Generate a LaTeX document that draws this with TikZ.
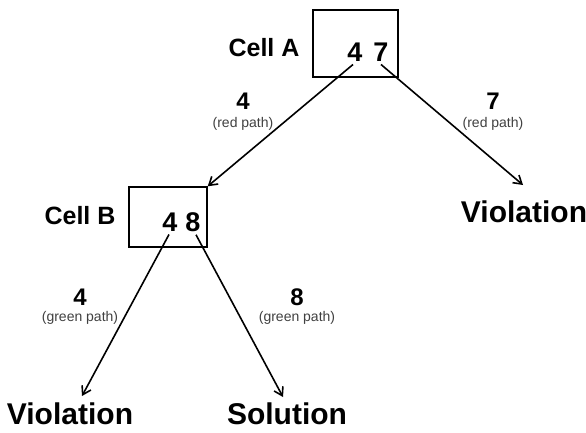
\documentclass[tikz,border=0pt]{standalone}
\usepackage{fontspec}
\setmainfont{Liberation Sans}
\usetikzlibrary{arrows.meta}
\tikzset{
    > = {Straight Barb[length=8pt,width=10pt]},
    cellbox/.style = {draw, line width=1.4pt, minimum width=#1, inner sep=0pt},
    digits/.style = {font=\bfseries\fontsize{27}{27}\selectfont, inner sep=0pt},
    celllabel/.style = {font=\bfseries\fontsize{25}{25}\selectfont},
    value/.style = {font=\bfseries\fontsize{24}{24}\selectfont},
    pathnote/.style = {font=\fontsize{14}{14}\selectfont, text=black!75},
    result/.style = {font=\bfseries\fontsize{30}{30}\selectfont},
    branch/.style = {->, line width=1.6pt}
}

\begin{document}
\begin{tikzpicture}[x=1pt, y=-1pt]
    \useasboundingbox (0, 0) rectangle (586, 432);

    \node[cellbox=85pt, minimum height=67pt] (cellA) at (355.5, 43.5) {};
    \node[cellbox=78pt, minimum height=60pt] (cellB) at (168, 217) {};

    \node[celllabel] (labelA) at (264, 48) {Cell A};
    \node[celllabel] (labelB) at (80, 216) {Cell B};

    \node[digits] (a4) at (355, 52) {4};
    \node[digits] (a7) at (381, 52) {7};
    \node[digits] (b4) at (170, 222) {4};
    \node[digits] (b8) at (193, 222) {8};

    \node[result] (violR) at (524, 212) {Violation};
    \node[result] (violL) at (70, 414) {Violation};
    \node[result] (sol) at (287, 414) {Solution};

    \node[value] (v4) at (243, 101) {4};
    \node[pathnote] (n4) at (243, 124) {(red path)};
    \node[value] (v7) at (493, 101) {7};
    \node[pathnote] (n7) at (493, 124) {(red path)};
    \node[value] (w4) at (80, 297) {4};
    \node[pathnote] (m4) at (80, 318) {(green path)};
    \node[value] (w8) at (297, 297) {8};
    \node[pathnote] (m8) at (297, 318) {(green path)};

    \draw[branch] (a4.south) ++(-2, 3) coordinate (a4out) (a4out) -- (cellB.north east);
    \draw[branch] (a7.south) ++(0, 3) coordinate (a7out) (a7out) -- (523, 185) coordinate (violin);
    \draw[branch] (b4.south) ++(-1, 3) coordinate (b4out) (b4out) -- (82, 396) coordinate (violLin);
    \draw[branch] (b8.south) ++(3, 3) coordinate (b8out) (b8out) -- (283, 397) coordinate (solin);
\end{tikzpicture}
\end{document}
